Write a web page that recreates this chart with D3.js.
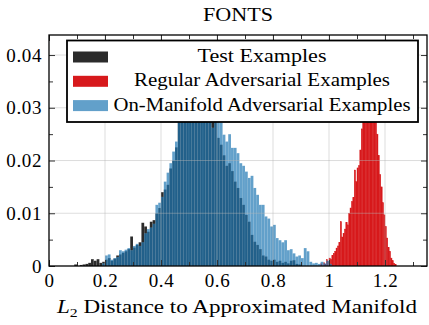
<!DOCTYPE html>
<html lang="en">
<head>
<meta charset="UTF-8" />
<script src="https://d3js.org/d3.v7.min.js"></script>
<style>
  body { margin: 0; background: #fff; }
  text { font-family: 'Liberation Serif', serif; font-size: 19px; fill: #000; }
  .axis path { display: none; }
  .axis line { stroke: #333; }
</style>
</head>
<body>
<script>
  // histogram data, values = fraction per bin
  var binW = 0.01;
  var testStart = 0.09;
  var testVals = [0.0003, 0, 0.0002, 0.0003, 0.0004, 0.0006, 0.0013, 0.0010, 0.0013, 0.0006,
    0.0008, 0.0012, 0.0015, 0.0010, 0.0014, 0.0020, 0.0022, 0.0025, 0.0028, 0.0032,
    0.0056, 0.0035, 0.0040, 0.0045, 0.0082, 0.0075, 0.0065, 0.0084, 0.0087, 0.0100,
    0.0110, 0.0140, 0.0145, 0.0154, 0.0185, 0.0200, 0.0225, 0.0280, 0.0300, 0.0315,
    0.0325, 0.0335, 0.0340, 0.0335, 0.0340, 0.0330, 0.0325, 0.0320, 0.0310, 0.0300,
    0.0275, 0.0243, 0.0230, 0.0210, 0.0190, 0.0195, 0.0180, 0.0160, 0.0148, 0.0129,
    0.0116, 0.0097, 0.0084, 0.0059, 0.0046, 0.0040, 0.0032, 0.0020, 0.0018, 0.0012,
    0.0010, 0.0012, 0.0008, 0.0010, 0.0006, 0.0008, 0.0005, 0.0010, 0.0011, 0.0004,
    0.0003];

  var manifoldStart = 0.19;
  var manifoldVals = [0.0005, 0.0020, 0.0022, 0.0012, 0.0015, 0.0017, 0.0030, 0.0028, 0.0031, 0.0034,
    0.0030, 0.0038, 0.0042, 0.0038, 0.0045, 0.0062, 0.0070, 0.0073, 0.0080, 0.0116,
    0.0120, 0.0131, 0.0160, 0.0177, 0.0195, 0.0217, 0.0236, 0.0290, 0.0300, 0.0310,
    0.0320, 0.0325, 0.0330, 0.0335, 0.0330, 0.0335, 0.0330, 0.0325, 0.0320, 0.0262,
    0.0285, 0.0290, 0.0272, 0.0249, 0.0236, 0.0250, 0.0224, 0.0224, 0.0214, 0.0195,
    0.0190, 0.0179, 0.0167, 0.0171, 0.0148, 0.0135, 0.0116, 0.0116, 0.0094, 0.0090,
    0.0075, 0.0078, 0.0053, 0.0049, 0.0045, 0.0049, 0.0030, 0.0032, 0.0024, 0.0018,
    0.0020, 0.0015, 0.0034, 0.0028, 0.0008, 0.0005, 0.0006, 0.0004, 0.0008, 0.0005,
    0.0010, 0.0004];

  var advW = 0.005;
  var advStart = 0.97;
  var advVals = [0.0004, 0, 0.0006, 0.0003, 0.0012, 0.0008, 0.0015, 0.0012, 0.0020, 0.0024,
    0.0028, 0.0034, 0.0038, 0.0045, 0.0084, 0.0055, 0.0062, 0.0070, 0.0083, 0.0078,
    0.0100, 0.0110, 0.0122, 0.0130, 0.0182, 0.0160, 0.0186, 0.0190, 0.0220, 0.0260,
    0.0290, 0.0310, 0.0330, 0.0350, 0.0360, 0.0370, 0.0365, 0.0350, 0.0330, 0.0300,
    0.0250, 0.0210, 0.0173, 0.0150, 0.0120, 0.0097, 0.0075, 0.0053, 0.0035, 0.0028,
    0.0015, 0.0010, 0.0005, 0.0003];

  var xTicks = [0, 0.2, 0.4, 0.6, 0.8, 1, 1.2];
  var yTicks = [0, 0.01, 0.02, 0.03, 0.04];
  var legendLabels = ["Test Examples", "Regular Adversarial Examples", "On-Manifold Adversarial Examples"];
  var legendWidths = [129, 256, 297];

  var W = 429, H = 325;
  var mLeft = 49, mRight = 427, mTop = 35, mBottom = 266;

  var svg = d3.select("body").append("svg")
    .attr("width", W)
    .attr("height", H);

  var x = d3.scaleLinear().domain([0, 1.35]).range([mLeft, mRight]);
  var y = d3.scaleLinear().domain([0, 0.0438]).range([mBottom, mTop]);

  svg.append("clipPath").attr("id", "plotclip")
    .append("rect")
    .attr("x", mLeft).attr("y", mTop)
    .attr("width", mRight - mLeft).attr("height", mBottom - mTop);

  var plot = svg.append("g").attr("clip-path", "url(#plotclip)");

  function drawHist(vals, start, w, fill, op, edge) {
    plot.append("g").selectAll("rect")
      .data(vals)
      .enter().append("rect")
      .attr("x", function(d, i) { return x(start + i * w); })
      .attr("width", function(d, i) { return x(start + (i + 1) * w) - x(start + i * w); })
      .attr("y", function(d) { return y(d); })
      .attr("height", function(d) { return y(0) - y(d); })
      .attr("fill", fill)
      .attr("fill-opacity", op)
      .attr("stroke", edge ? "#fff" : fill)
      .attr("stroke-opacity", edge ? 0.2 : 1)
      .attr("stroke-width", edge ? 0.3 : 0.4);
  }

  var testCol = "#000", testOp = 0.83;
  var advCol = "#d7191c", advOp = 1;
  var manCol = "#1f77b4", manOp = 0.7;

  drawHist(testVals, testStart, binW, testCol, testOp, true);
  drawHist(advVals, advStart, advW, advCol, advOp, false);
  drawHist(manifoldVals, manifoldStart, binW, manCol, manOp, true);

  // grid on top of the bars
  var grid = svg.append("g").attr("stroke", "#b4b4b4").attr("stroke-opacity", 0.45).attr("stroke-width", 1);
  grid.selectAll(".gx").data(xTicks.slice(1)).enter().append("line")
    .attr("x1", function(d) { return x(d); }).attr("x2", function(d) { return x(d); })
    .attr("y1", mTop).attr("y2", mBottom);
  grid.selectAll(".gy").data(yTicks.slice(1)).enter().append("line")
    .attr("y1", function(d) { return y(d); }).attr("y2", function(d) { return y(d); })
    .attr("x1", mLeft).attr("x2", mRight);

  // ticks, all inward
  var xMinor = d3.range(0.1, 1.35, 0.2);
  var yMinor = d3.range(0.005, 0.0438, 0.01);

  svg.append("g").attr("class", "axis").attr("transform", "translate(0," + mBottom + ")")
    .call(d3.axisBottom(x).tickValues(xTicks).tickSize(-6).tickPadding(8)
      .tickFormat(function(d) { return d === 0 || d === 1 ? d3.format("d")(d) : d3.format(".1f")(d); }));
  svg.append("g").attr("class", "axis").attr("transform", "translate(0," + mBottom + ")")
    .call(d3.axisBottom(x).tickValues(xMinor).tickSize(-4).tickFormat(""));
  svg.append("g").attr("class", "axis").attr("transform", "translate(0," + mTop + ")")
    .call(d3.axisTop(x).tickValues(xTicks).tickSize(-6).tickFormat(""));
  svg.append("g").attr("class", "axis").attr("transform", "translate(0," + mTop + ")")
    .call(d3.axisTop(x).tickValues(xMinor).tickSize(-4).tickFormat(""));

  svg.append("g").attr("class", "axis").attr("transform", "translate(" + mLeft + ",0)")
    .call(d3.axisLeft(y).tickValues(yTicks).tickSize(-6).tickPadding(7)
      .tickFormat(function(d) { return d === 0 ? "0" : d3.format(".2f")(d); }));
  svg.append("g").attr("class", "axis").attr("transform", "translate(" + mLeft + ",0)")
    .call(d3.axisLeft(y).tickValues(yMinor).tickSize(-4).tickFormat(""));
  svg.append("g").attr("class", "axis").attr("transform", "translate(" + mRight + ",0)")
    .call(d3.axisRight(y).tickValues(yTicks).tickSize(-6).tickFormat(""));
  svg.append("g").attr("class", "axis").attr("transform", "translate(" + mRight + ",0)")
    .call(d3.axisRight(y).tickValues(yMinor).tickSize(-4).tickFormat(""));

  svg.selectAll(".axis text")
    .style("font-family", "'Liberation Serif'").style("font-size", "19px")
    .style("letter-spacing", "0.6px").attr("fill", "#000");

  // frame
  svg.append("rect")
    .attr("x", mLeft).attr("y", mTop)
    .attr("width", mRight - mLeft).attr("height", mBottom - mTop)
    .attr("fill", "none").attr("stroke", "#000").attr("stroke-width", 1.3);

  // legend
  var lg = svg.append("g");
  lg.append("rect")
    .attr("x", 67).attr("y", 40.5).attr("width", 351).attr("height", 81.5)
    .attr("fill", "#fff").attr("stroke", "#000").attr("stroke-width", 1.8);
  var legCols = [[testCol, testOp], [advCol, advOp], [manCol, manOp]];
  legendLabels.forEach(function(lab, i) {
    var by = 62 + i * 24.3;
    lg.append("rect")
      .attr("x", 73).attr("y", by - 10.5).attr("width", 35).attr("height", 11)
      .attr("fill", legCols[i][0]).attr("fill-opacity", legCols[i][1]);
    lg.append("text")
      .attr("x", 262).attr("y", by)
      .attr("text-anchor", "middle")
      .attr("textLength", legendWidths[i])
      .attr("lengthAdjust", "spacingAndGlyphs")
      .text(lab);
  });

  // title and axis label
  svg.append("text")
    .attr("x", (mLeft + mRight) / 2).attr("y", 21)
    .attr("text-anchor", "middle")
    .attr("textLength", 70)
    .attr("lengthAdjust", "spacingAndGlyphs")
    .text("FONTS");

  var xl = svg.append("text")
    .attr("x", 237).attr("y", 312.5)
    .attr("text-anchor", "middle")
    .attr("textLength", 360)
    .attr("lengthAdjust", "spacingAndGlyphs");
  xl.append("tspan").attr("font-style", "italic").text("L");
  xl.append("tspan").attr("font-size", "13px").attr("dy", 4).text("2");
  xl.append("tspan").attr("dy", -4).text(" Distance to Approximated Manifold");
</script>
</body>
</html>
